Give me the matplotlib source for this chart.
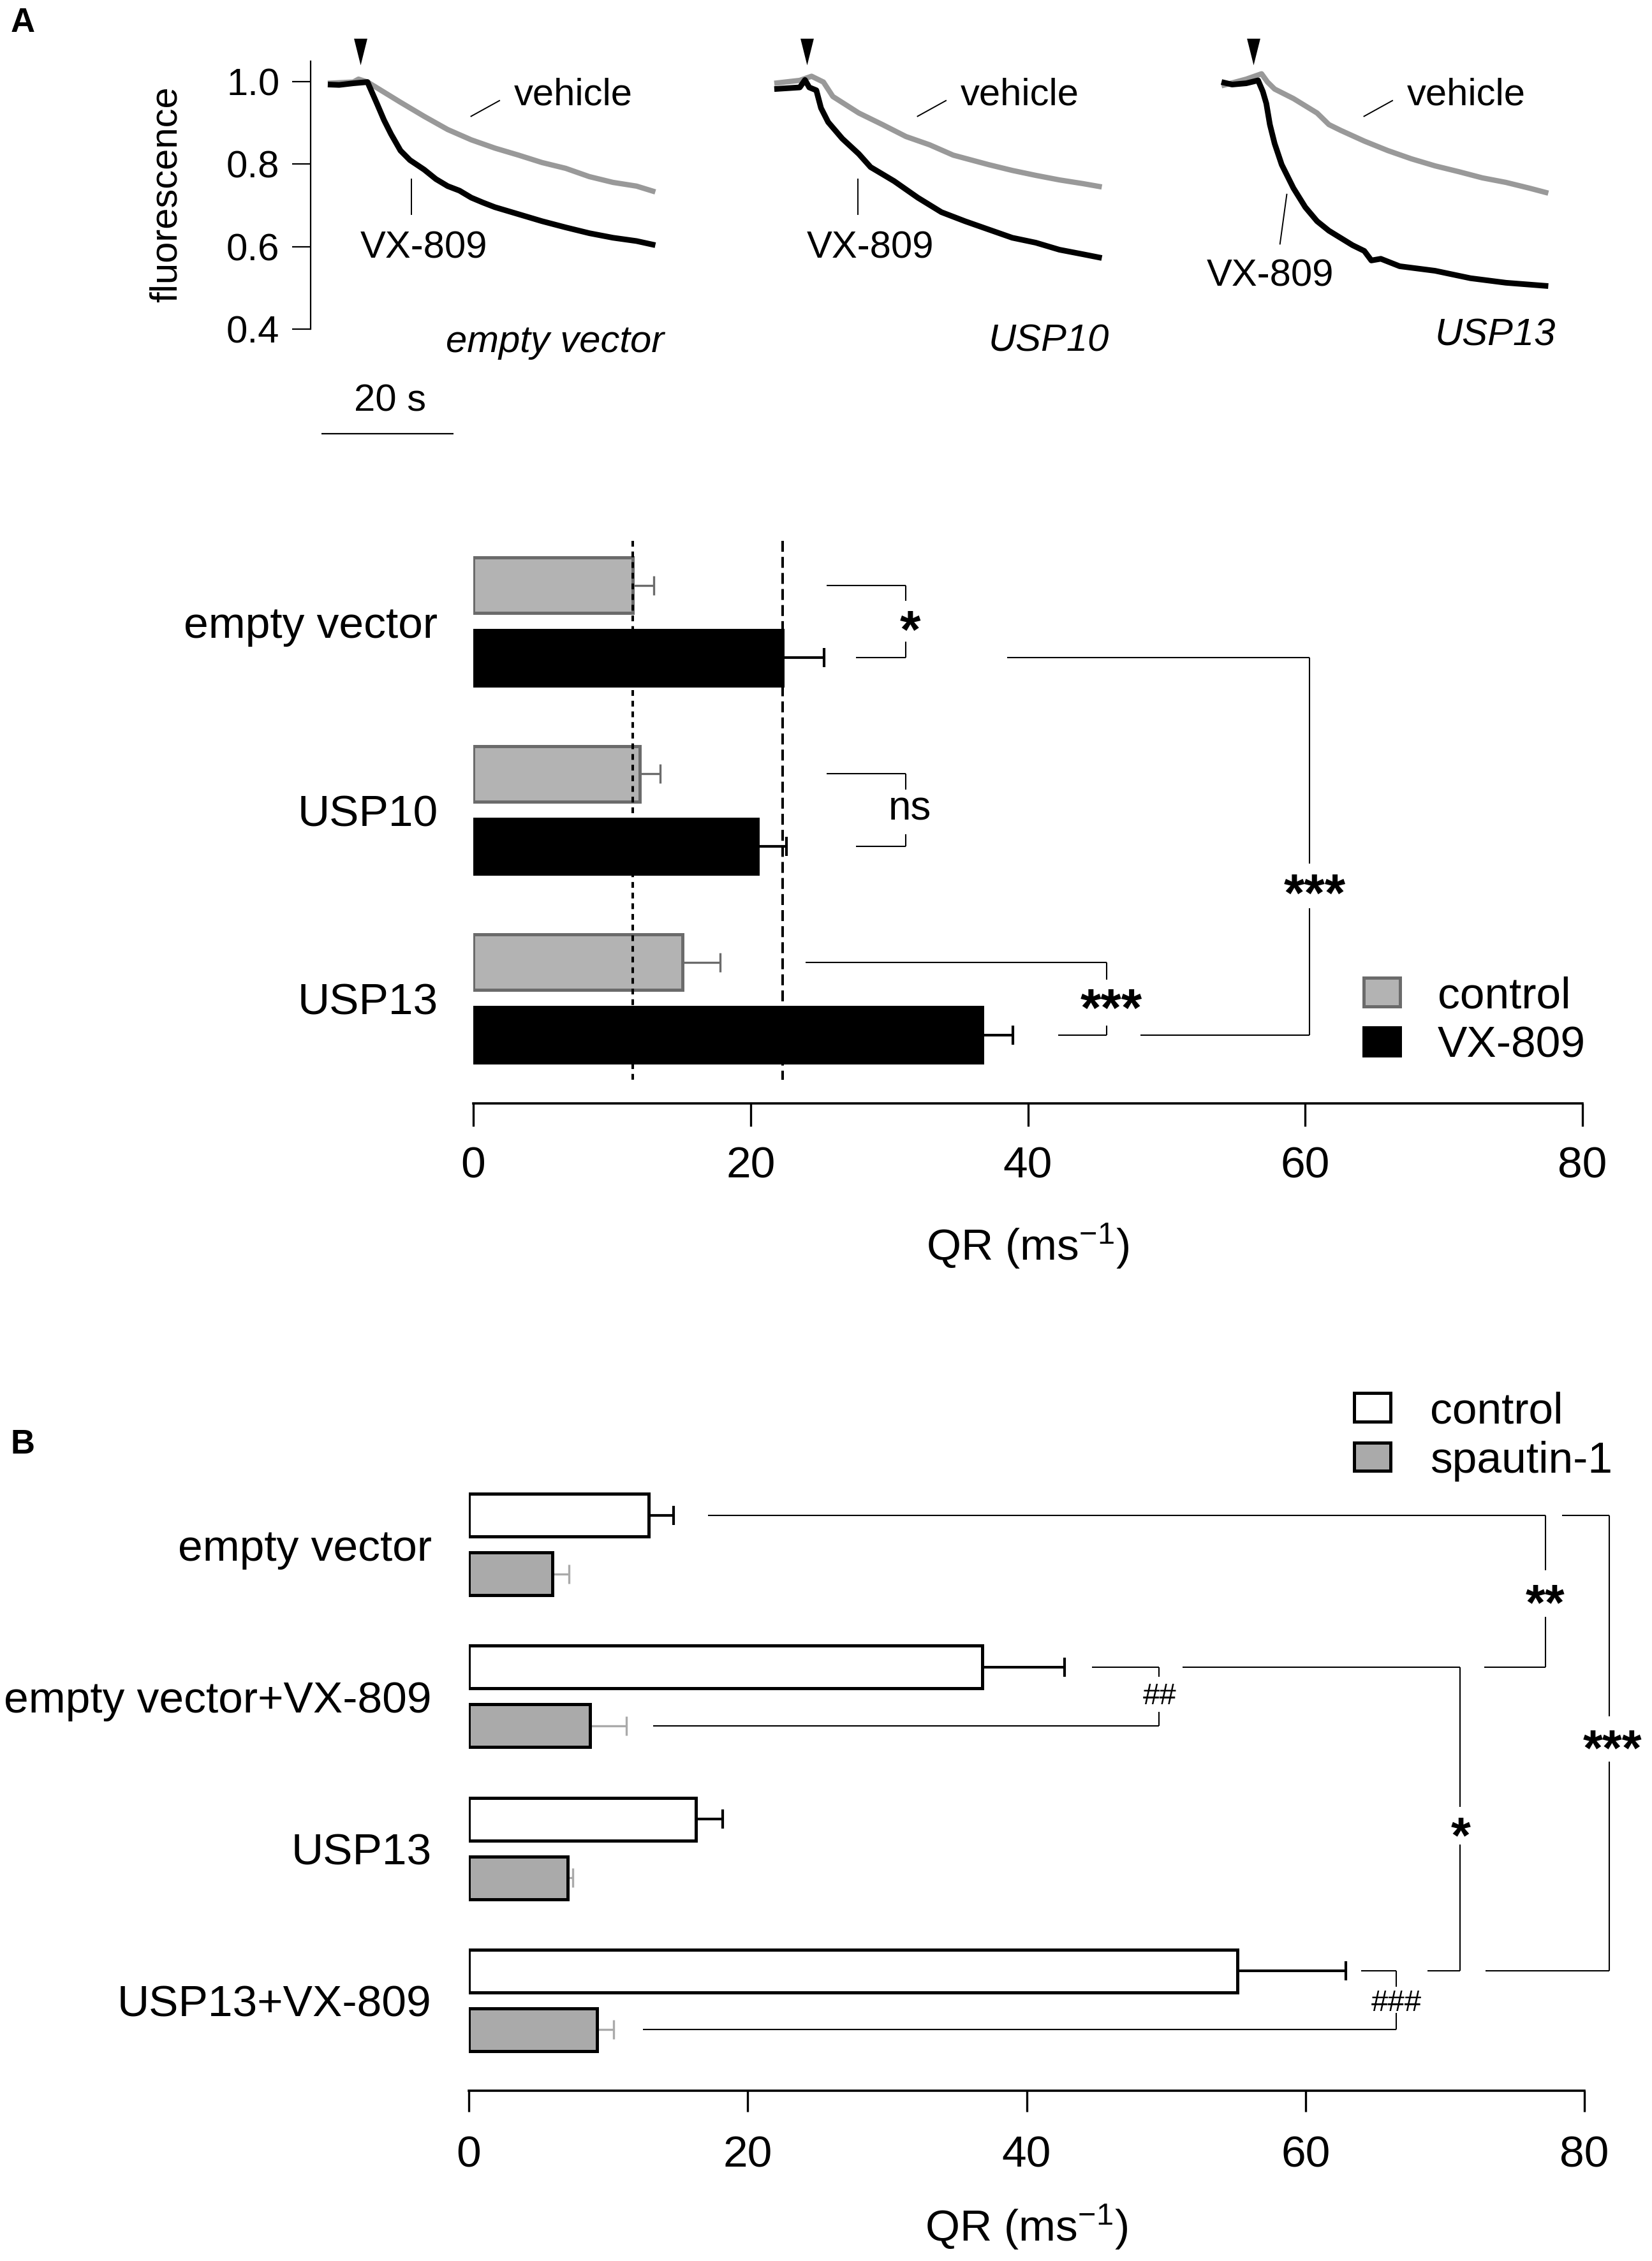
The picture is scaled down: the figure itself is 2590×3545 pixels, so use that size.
import matplotlib
matplotlib.use("Agg")
import matplotlib.pyplot as plt
from matplotlib.transforms import offset_copy
import numpy as np

# ---------------------------------------------------------------- data
# Panel A, example traces: time (s) and normalised fluorescence
ev_vx_t = [0, 1.72, 3.86, 6.01, 7.44, 8.51, 9.58, 11.01, 12.44, 14.59, 16.38, 18.16,
           19.95, 21.74, 23.53, 25.31, 28.89, 32.46, 36.04, 39.61, 43.19, 46.76, 49.61]
ev_vx_f = [0.993, 0.992, 0.996, 0.999, 0.947, 0.907, 0.873, 0.833, 0.810, 0.787, 0.764, 0.747,
           0.736, 0.719, 0.707, 0.696, 0.679, 0.662, 0.647, 0.633, 0.622, 0.614, 0.604]
ev_veh_t = [0, 3.86, 4.65, 6.01, 7.44, 11.01, 14.59, 18.16, 21.74, 25.31, 28.89, 32.46,
            36.04, 39.61, 43.19, 46.76, 49.61]
ev_veh_f = [0.996, 0.999, 1.006, 0.999, 0.985, 0.950, 0.916, 0.884, 0.859, 0.839, 0.822, 0.804,
            0.790, 0.770, 0.756, 0.747, 0.733]

u10_vx_t = [0, 3.86, 4.65, 5.30, 6.37, 7.08, 8.16, 10.30, 12.80, 14.59, 16.38, 18.16,
            21.74, 25.31, 28.89, 32.46, 36.04, 39.61, 43.19, 46.76, 49.61]
u10_vx_f = [0.982, 0.986, 1.004, 0.986, 0.979, 0.936, 0.902, 0.862, 0.825, 0.793, 0.776, 0.759,
            0.719, 0.684, 0.662, 0.642, 0.622, 0.610, 0.593, 0.582, 0.573]
u10_veh_t = [0, 3.86, 5.65, 7.44, 8.87, 12.80, 16.38, 19.95, 23.53, 27.10, 32.46, 36.04,
             39.61, 43.19, 46.76, 49.61]
u10_veh_f = [0.996, 1.003, 1.013, 0.999, 0.964, 0.924, 0.896, 0.867, 0.847, 0.822, 0.799, 0.785,
             0.773, 0.762, 0.753, 0.745]

u13_vx_t = [0.11, 1.72, 3.86, 5.65, 6.37, 6.90, 7.44, 8.16, 9.23, 11.01, 12.80, 14.59, 16.38,
            19.95, 21.74, 22.81, 24.24, 27.10, 32.46, 37.82, 43.19, 49.61]
u13_vx_f = [0.999, 0.993, 0.996, 1.003, 0.976, 0.947, 0.896, 0.850, 0.799, 0.742, 0.696, 0.662,
            0.639, 0.604, 0.590, 0.567, 0.571, 0.553, 0.542, 0.524, 0.513, 0.505]
u13_veh_t = [0.11, 3.86, 6.18, 7.08, 8.16, 11.01, 14.59, 16.38, 18.16, 21.74, 25.31, 28.89,
             32.46, 36.04, 39.61, 43.19, 46.76, 49.61]
u13_veh_f = [0.990, 1.006, 1.019, 0.999, 0.982, 0.959, 0.924, 0.896, 0.882, 0.856, 0.833, 0.813,
             0.796, 0.782, 0.767, 0.756, 0.742, 0.730]

trace_titles = ["empty vector", "USP10", "USP13"]
application_time = [4.9, 4.9, 4.9]
fluo_ticks = [0.4, 0.6, 0.8, 1.0]

# Panel A, bar chart (QR, ms^-1)
groups_A = ["empty vector", "USP10", "USP13"]
qrA_control = [11.5, 12.0, 15.1]
qrA_control_sem = [1.5, 1.5, 2.7]
qrA_vx809 = [22.3, 20.5, 36.7]
qrA_vx809_sem = [3.0, 2.1, 2.2]

# Panel B, bar chart (QR, ms^-1)
groups_B = ["empty vector", "empty vector+VX-809", "USP13", "USP13+VX-809"]
qrB_control = [12.9, 36.8, 16.3, 55.1]
qrB_control_sem = [1.8, 5.9, 1.9, 7.8]
qrB_spautin = [6.0, 8.7, 7.1, 9.2]
qrB_spautin_sem = [1.2, 2.6, 0.35, 1.2]

qr_ticks = [0, 20, 40, 60, 80]

# ---------------------------------------------------------------- style / layout
plt.rcParams["font.family"] = ["Liberation Sans", "DejaVu Sans"]
plt.rcParams["mathtext.default"] = "regular"

W, H = 2590, 3545
fig = plt.figure(figsize=(W / 100, H / 100), dpi=100)


def axes_px(left, top, right, bottom):
    return fig.add_axes([left / W, 1 - bottom / H, (right - left) / W, (bottom - top) / H])


def put_label(ax, x, y, s, fs, k, **kw):
    tr = offset_copy(ax.transData, fig=fig, y=-k * fs, units="points")
    ax.text(x, y, s, transform=tr, fontsize=fs, ha="center", va="baseline", clip_on=False, **kw)


def bracket(ax, y_top, y_bot, x_v, x_top0, x_bot0, gap, lab, lab_xy, fs, k, lw=1.5, **kw_text):
    kw = dict(color="black", lw=lw, solid_capstyle="butt", clip_on=False, zorder=5)
    ax.plot([x_top0, x_v], [y_top, y_top], **kw)
    ax.plot([x_bot0, x_v], [y_bot, y_bot], **kw)
    ax.plot([x_v, x_v], [y_top, gap[0]], **kw)
    ax.plot([x_v, x_v], [gap[1], y_bot], **kw)
    put_label(ax, lab_xy[0], lab_xy[1], lab, fs, k, **kw_text)


TXT = 43
arrow_marker = [(-0.5, 1), (0.5, 1), (0, -1), (-0.5, 1)]

traces = [(ev_veh_t, ev_veh_f, ev_vx_t, ev_vx_f),
          (u10_veh_t, u10_veh_f, u10_vx_t, u10_vx_f),
          (u13_veh_t, u13_veh_f, u13_vx_t, u13_vx_f)]
trace_lefts = [487, 1187, 1887]
vx_text_pos = [(14.5, 0.573), (14.5, 0.573), (7.45, 0.505)]
vx_leader = [((12.7, 12.7), (0.764, 0.679)), ((12.7, 12.7), (0.764, 0.679)),
             ((10.0, 8.97), (0.727, 0.607))]
title_pos = [(50.9, 0.345), (50.7, 0.3475), (50.7, 0.362)]

for i, left in enumerate(trace_lefts):
    ax = axes_px(left, 95.6, left + 554.8, 516.5)
    ax.set_xlim(-2.6, 51.0)
    ax.set_ylim(0.4, 1.05)
    for s in ["top", "right", "bottom"]:
        ax.spines[s].set_visible(False)
    ax.set_xticks([])
    if i == 0:
        ax.spines["left"].set_linewidth(1.6)
        ax.set_yticks(fluo_ticks)
        ax.set_yticklabels([f"{v:.1f}" for v in fluo_ticks])
        ax.tick_params(axis="y", length=21, width=1.6, pad=14, labelsize=TXT)
        ax.text(-0.407, 0.5025, "fluorescence", rotation=90, ha="center", va="center",
                transform=ax.transAxes, fontsize=TXT)
        # scale bar
        ax.plot([-1, 19], [0.1475, 0.1475], color="black", lw=1.6, clip_on=False,
                solid_capstyle="butt")
        ax.text(9.4, 0.226, "20 s", ha="center", va="center", fontsize=TXT)
    else:
        ax.spines["left"].set_visible(False)
        ax.set_yticks([])
    vt, vf, xt, xf = traces[i]
    ax.plot(vt, vf, color="#999999", lw=6.0, solid_joinstyle="round", solid_capstyle="butt",
            clip_on=False, zorder=2)
    ax.plot(xt, xf, color="black", lw=6.4, solid_joinstyle="round", solid_capstyle="butt",
            clip_on=False, zorder=3)
    ax.plot([application_time[i]], [1.072], marker=arrow_marker, ms=30, color="black",
            mew=0, ls="none", clip_on=False)
    # labels
    ax.text(28.2, 0.944, "vehicle", ha="left", va="baseline", fontsize=TXT)
    ax.plot([21.7, 26.0], [0.916, 0.954], color="black", lw=1.4, clip_on=False)
    ax.text(vx_text_pos[i][0], vx_text_pos[i][1], "VX-809", ha="center", va="baseline", fontsize=TXT)
    ax.plot(vx_leader[i][0], vx_leader[i][1], color="black", lw=1.4, clip_on=False)
    ax.text(title_pos[i][0], title_pos[i][1], trace_titles[i], ha="right", va="baseline",
            fontsize=TXT, style="italic")

fig.text(17 / W, 1 - 49.6 / H, "A", fontsize=38, fontweight="bold", ha="left", va="baseline")
fig.text(17 / W, 1 - 2279 / H, "B", fontsize=38, fontweight="bold", ha="left", va="baseline")

LAB = 50
AST_A = 60
AST_B = 57

# ---------------------------------------------------------------- panel A bars
axA = axes_px(742, 848, 2481, 1730)
posA = np.arange(len(groups_A))
offA, hA = 0.1925, 0.294
bA1 = axA.barh(posA - offA, qrA_control, height=hA, color="#b3b3b3", edgecolor="#6b6b6b",
               linewidth=3.6, zorder=3)
bA2 = axA.barh(posA + offA, qrA_vx809, height=hA, color="black", edgecolor="black",
               linewidth=3.6, zorder=3)
axA.errorbar(qrA_control, posA - offA, xerr=[np.zeros(len(posA)), qrA_control_sem], fmt="none",
             ecolor="#6b6b6b", elinewidth=2.4, capsize=10.8, capthick=2.4, zorder=2)
axA.errorbar(qrA_vx809, posA + offA, xerr=[np.zeros(len(posA)), qrA_vx809_sem], fmt="none",
             ecolor="black", elinewidth=3.0, capsize=10.8, capthick=3.0, zorder=2)
axA.vlines([qrA_control[0]], -0.428, 2.43, colors="black", linestyles=[(0, (2.25, 1.9))],
           lw=2.9, zorder=4)
axA.vlines([qrA_vx809[0]], -0.428, 2.43, colors="black", linestyles=[(0, (4.25, 2.0))],
           lw=2.9, zorder=4)
axA.set_xlim(0, 80)
axA.set_ylim(2.556, -0.428)
for s in ["top", "right", "left"]:
    axA.spines[s].set_visible(False)
axA.spines["bottom"].set_linewidth(2.6)
axA.set_xticks(qr_ticks)
axA.tick_params(axis="x", length=26, width=2.4, pad=22, labelsize=LAB)
axA.set_yticks(posA)
axA.set_yticklabels(groups_A)
axA.tick_params(axis="y", length=0, pad=40, labelsize=LAB)
axA.set_xlabel("QR (ms$^{-1}$)", fontsize=LAB)
axA.xaxis.set_label_coords(0.5, -0.2789)
axA.xaxis.label.set_va("baseline")

cA = posA - offA
vA = posA + offA
bracket(axA, cA[0], vA[0], 31.2, 25.5, 27.6, (-0.110, 0.107), "*", (31.5, -0.022), AST_A, 0.57,
        fontweight="bold")
bracket(axA, cA[1], vA[1], 31.2, 25.5, 27.6, (0.893, 1.127), "ns", (31.5, 0.996), 46, 0.26)
bracket(axA, cA[2], vA[2], 45.7, 23.95, 42.2, (1.900, 2.142), "***", (46.0, 1.987), AST_A, 0.57,
        fontweight="bold")
bracket(axA, vA[0], vA[2], 60.3, 38.5, 48.1, (1.284, 1.521), "***", (60.7, 1.375), AST_A, 0.57,
        fontweight="bold")

axA.legend([bA1, bA2], ["control", "VX-809"], loc="upper left",
           bbox_to_anchor=(2138 / W, 1 - 1530 / H), bbox_transform=fig.transFigure,
           fontsize=LAB, frameon=False, borderpad=0, borderaxespad=0,
           handlelength=0.82, handleheight=0.6, handletextpad=0.85, labelspacing=0.2)

# ---------------------------------------------------------------- panel B bars
axB = axes_px(735, 2280, 2484, 3278)
posB = np.arange(len(groups_B))
offB, hB = 0.193, 0.281
bB1 = axB.barh(posB - offB, qrB_control, height=hB, color="white", edgecolor="black",
               linewidth=3.6, zorder=3)
bB2 = axB.barh(posB + offB, qrB_spautin, height=hB, color="#aaaaaa", edgecolor="black",
               linewidth=3.6, zorder=3)
axB.errorbar(qrB_control, posB - offB, xerr=[np.zeros(len(posB)), qrB_control_sem], fmt="none",
             ecolor="black", elinewidth=3.0, capsize=10.8, capthick=3.0, zorder=2)
axB.errorbar(qrB_spautin, posB + offB, xerr=[np.zeros(len(posB)), qrB_spautin_sem], fmt="none",
             ecolor="#aaaaaa", elinewidth=2.4, capsize=10.8, capthick=2.4, zorder=2)
axB.set_xlim(0, 80)
axB.set_ylim(3.594, -0.594)
for s in ["top", "right", "left"]:
    axB.spines[s].set_visible(False)
axB.spines["bottom"].set_linewidth(2.6)
axB.set_xticks(qr_ticks)
axB.tick_params(axis="x", length=24, width=2.4, pad=26, labelsize=LAB)
axB.set_yticks(posB)
axB.set_yticklabels(groups_B)
axB.tick_params(axis="y", length=0, pad=42, labelsize=LAB)
axB.set_xlabel("QR (ms$^{-1}$)", fontsize=LAB)
axB.xaxis.set_label_coords(0.5, -0.2365)
axB.xaxis.label.set_va("baseline")

cB = posB - offB
sB = posB + offB
bracket(axB, cB[0], cB[1], 77.2, 17.15, 72.8, (0.171, 0.475), "**", (77.2, 0.303), AST_B, 0.57,
        fontweight="bold")
bracket(axB, cB[0], cB[3], 81.8, 78.4, 72.9, (1.13, 1.43), "***", (82.0, 1.262), AST_B, 0.57,
        fontweight="bold")
bracket(axB, cB[1], cB[3], 71.1, 51.2, 68.75, (1.725, 1.973), "*", (71.15, 1.835), AST_B, 0.57,
        fontweight="bold")
bracket(axB, cB[1], sB[1], 49.5, 44.7, 13.2, (0.87, 1.10), "##", (49.55, 0.979), 34, 0.36)
bracket(axB, cB[3], sB[3], 66.5, 64.0, 12.5, (2.91, 3.08), "###", (66.5, 3.0), 34, 0.36)

axB.legend([bB1, bB2], ["control", "spautin-1"], loc="upper left",
           bbox_to_anchor=(2123 / W, 1 - 2181 / H), bbox_transform=fig.transFigure,
           fontsize=LAB, frameon=False, borderpad=0, borderaxespad=0,
           handlelength=0.82, handleheight=0.6, handletextpad=0.9, labelspacing=0.2)

fig.savefig("out.png", dpi=100, facecolor="white")
